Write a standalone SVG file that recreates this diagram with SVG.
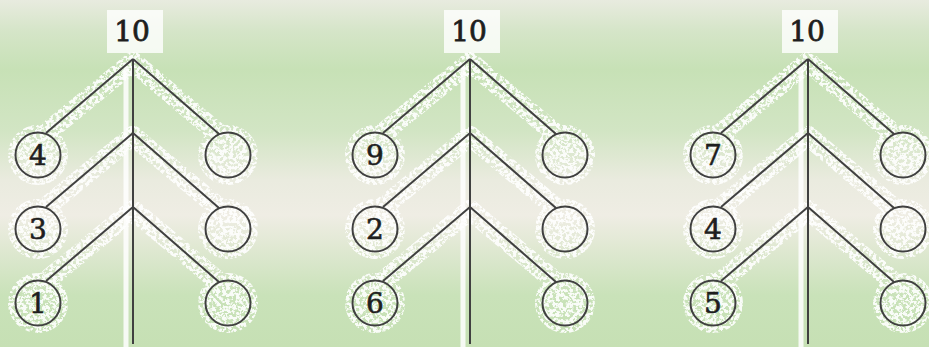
<svg xmlns="http://www.w3.org/2000/svg" width="929" height="347" viewBox="0 0 929 347">
<defs>
<linearGradient id="bg" x1="0" y1="0" x2="0" y2="1">
<stop offset="0" stop-color="#e8ebdf"/>
<stop offset="0.09" stop-color="#d5e5c8"/>
<stop offset="0.2" stop-color="#c7e1b6"/>
<stop offset="0.38" stop-color="#d2e5c4"/>
<stop offset="0.52" stop-color="#eaebdf"/>
<stop offset="0.62" stop-color="#efede4"/>
<stop offset="0.72" stop-color="#dfe8d1"/>
<stop offset="0.85" stop-color="#c9e2b9"/>
<stop offset="1" stop-color="#c6e0b4"/>
</linearGradient>
<filter id="speckle" x="-5%" y="-5%" width="110%" height="110%">
<feTurbulence type="fractalNoise" baseFrequency="0.3" numOctaves="3" seed="7" result="n"/>
<feColorMatrix in="n" type="matrix" values="0 0 0 0 1  0 0 0 0 1  0 0 0 0 1  9 0 0 0 -3.9" result="m"/>
<feComposite in="m" in2="SourceGraphic" operator="in"/>
</filter>
</defs>
<style>
.halo line{stroke:#ffffff;stroke-width:20;stroke-linecap:round}
.halo circle{fill:#ffffff}
.stripe{stroke:#ffffff;stroke-width:5;opacity:0.85}
.conn line{stroke:#404040;stroke-width:2}
.node circle{fill:none;stroke:#404040;stroke-width:2}
.lbl{font-family:"DejaVu Serif","Liberation Serif",serif;font-size:28px;fill:#1e1e1e;stroke:#1e1e1e;stroke-width:0.6;text-anchor:middle}
.top{font-family:"DejaVu Serif","Liberation Serif",serif;font-size:28px;fill:#1e1e1e;stroke:#1e1e1e;stroke-width:0.8;text-anchor:middle}
</style>
<rect x="0" y="0" width="929" height="347" fill="url(#bg)"/>

<!-- halos -->
<g class="halo" filter="url(#speckle)" opacity="0.9">
<g id="halo1">
<line x1="133" y1="62" x2="46" y2="133"/><line x1="133" y1="62" x2="219" y2="134"/>
<line x1="133" y1="136" x2="46" y2="207"/><line x1="133" y1="136" x2="219" y2="208"/>
<line x1="133" y1="210" x2="46" y2="281"/><line x1="133" y1="210" x2="219" y2="282"/>
<circle cx="38" cy="155" r="30"/><circle cx="38" cy="229" r="30"/><circle cx="38" cy="303" r="30"/>
<circle cx="228" cy="155" r="30"/><circle cx="228" cy="229" r="30"/><circle cx="228" cy="303" r="30"/>
</g>
<g id="halo2">
<line x1="470" y1="62" x2="383" y2="133"/><line x1="470" y1="62" x2="556" y2="134"/>
<line x1="470" y1="136" x2="383" y2="207"/><line x1="470" y1="136" x2="556" y2="208"/>
<line x1="470" y1="210" x2="383" y2="281"/><line x1="470" y1="210" x2="556" y2="282"/>
<circle cx="375" cy="155" r="30"/><circle cx="375" cy="229" r="30"/><circle cx="375" cy="303" r="30"/>
<circle cx="565" cy="155" r="30"/><circle cx="565" cy="229" r="30"/><circle cx="565" cy="303" r="30"/>
</g>
<g id="halo3">
<line x1="808" y1="62" x2="721" y2="133"/><line x1="808" y1="62" x2="894" y2="134"/>
<line x1="808" y1="136" x2="721" y2="207"/><line x1="808" y1="136" x2="894" y2="208"/>
<line x1="808" y1="210" x2="721" y2="281"/><line x1="808" y1="210" x2="894" y2="282"/>
<circle cx="713" cy="155" r="30"/><circle cx="713" cy="229" r="30"/><circle cx="713" cy="303" r="30"/>
<circle cx="903" cy="155" r="30"/><circle cx="903" cy="229" r="30"/><circle cx="903" cy="303" r="30"/>
</g>
</g>

<line class="stripe" x1="126" y1="66" x2="126" y2="347"/>
<line class="stripe" x1="463" y1="66" x2="463" y2="347"/>
<line class="stripe" x1="801" y1="66" x2="801" y2="347"/>

<!-- connectors -->
<g id="connectors" class="conn">
<line x1="133" y1="59" x2="133" y2="344"/>
<line x1="133" y1="59" x2="46" y2="133"/><line x1="133" y1="59" x2="219" y2="134"/>
<line x1="133" y1="133" x2="46" y2="207"/><line x1="133" y1="133" x2="219" y2="208"/>
<line x1="133" y1="207" x2="46" y2="281"/><line x1="133" y1="207" x2="219" y2="282"/>
<line x1="470" y1="59" x2="470" y2="344"/>
<line x1="470" y1="59" x2="383" y2="133"/><line x1="470" y1="59" x2="556" y2="134"/>
<line x1="470" y1="133" x2="383" y2="207"/><line x1="470" y1="133" x2="556" y2="208"/>
<line x1="470" y1="207" x2="383" y2="281"/><line x1="470" y1="207" x2="556" y2="282"/>
<line x1="808" y1="59" x2="808" y2="344"/>
<line x1="808" y1="59" x2="721" y2="133"/><line x1="808" y1="59" x2="894" y2="134"/>
<line x1="808" y1="133" x2="721" y2="207"/><line x1="808" y1="133" x2="894" y2="208"/>
<line x1="808" y1="207" x2="721" y2="281"/><line x1="808" y1="207" x2="894" y2="282"/>
</g>

<!-- tree 1 -->
<g id="t1-top" class="node"><rect x="107" y="10" width="56" height="43" fill="#ffffff" opacity="0.8"/><text class="top" x="132" y="41">10</text></g>
<g id="t1-l1" class="node"><circle cx="38" cy="155" r="22.5"/><text class="lbl" x="38" y="165">4</text></g>
<g id="t1-l2" class="node"><circle cx="38" cy="229" r="22.5"/><text class="lbl" x="38" y="239">3</text></g>
<g id="t1-l3" class="node"><circle cx="38" cy="303" r="22.5"/><text class="lbl" x="38" y="313">1</text></g>
<g id="t1-r1" class="node"><circle cx="228" cy="155" r="22.5"/></g>
<g id="t1-r2" class="node"><circle cx="228" cy="229" r="22.5"/></g>
<g id="t1-r3" class="node"><circle cx="228" cy="303" r="22.5"/></g>

<!-- tree 2 -->
<g id="t2-top" class="node"><rect x="444" y="10" width="56" height="43" fill="#ffffff" opacity="0.8"/><text class="top" x="469" y="41">10</text></g>
<g id="t2-l1" class="node"><circle cx="375" cy="155" r="22.5"/><text class="lbl" x="375" y="165">9</text></g>
<g id="t2-l2" class="node"><circle cx="375" cy="229" r="22.5"/><text class="lbl" x="375" y="239">2</text></g>
<g id="t2-l3" class="node"><circle cx="375" cy="303" r="22.5"/><text class="lbl" x="375" y="313">6</text></g>
<g id="t2-r1" class="node"><circle cx="565" cy="155" r="22.5"/></g>
<g id="t2-r2" class="node"><circle cx="565" cy="229" r="22.5"/></g>
<g id="t2-r3" class="node"><circle cx="565" cy="303" r="22.5"/></g>

<!-- tree 3 -->
<g id="t3-top" class="node"><rect x="782" y="10" width="56" height="43" fill="#ffffff" opacity="0.8"/><text class="top" x="807" y="41">10</text></g>
<g id="t3-l1" class="node"><circle cx="713" cy="155" r="22.5"/><text class="lbl" x="713" y="165">7</text></g>
<g id="t3-l2" class="node"><circle cx="713" cy="229" r="22.5"/><text class="lbl" x="713" y="239">4</text></g>
<g id="t3-l3" class="node"><circle cx="713" cy="303" r="22.5"/><text class="lbl" x="713" y="313">5</text></g>
<g id="t3-r1" class="node"><circle cx="903" cy="155" r="22.5"/></g>
<g id="t3-r2" class="node"><circle cx="903" cy="229" r="22.5"/></g>
<g id="t3-r3" class="node"><circle cx="903" cy="303" r="22.5"/></g>
</svg>
